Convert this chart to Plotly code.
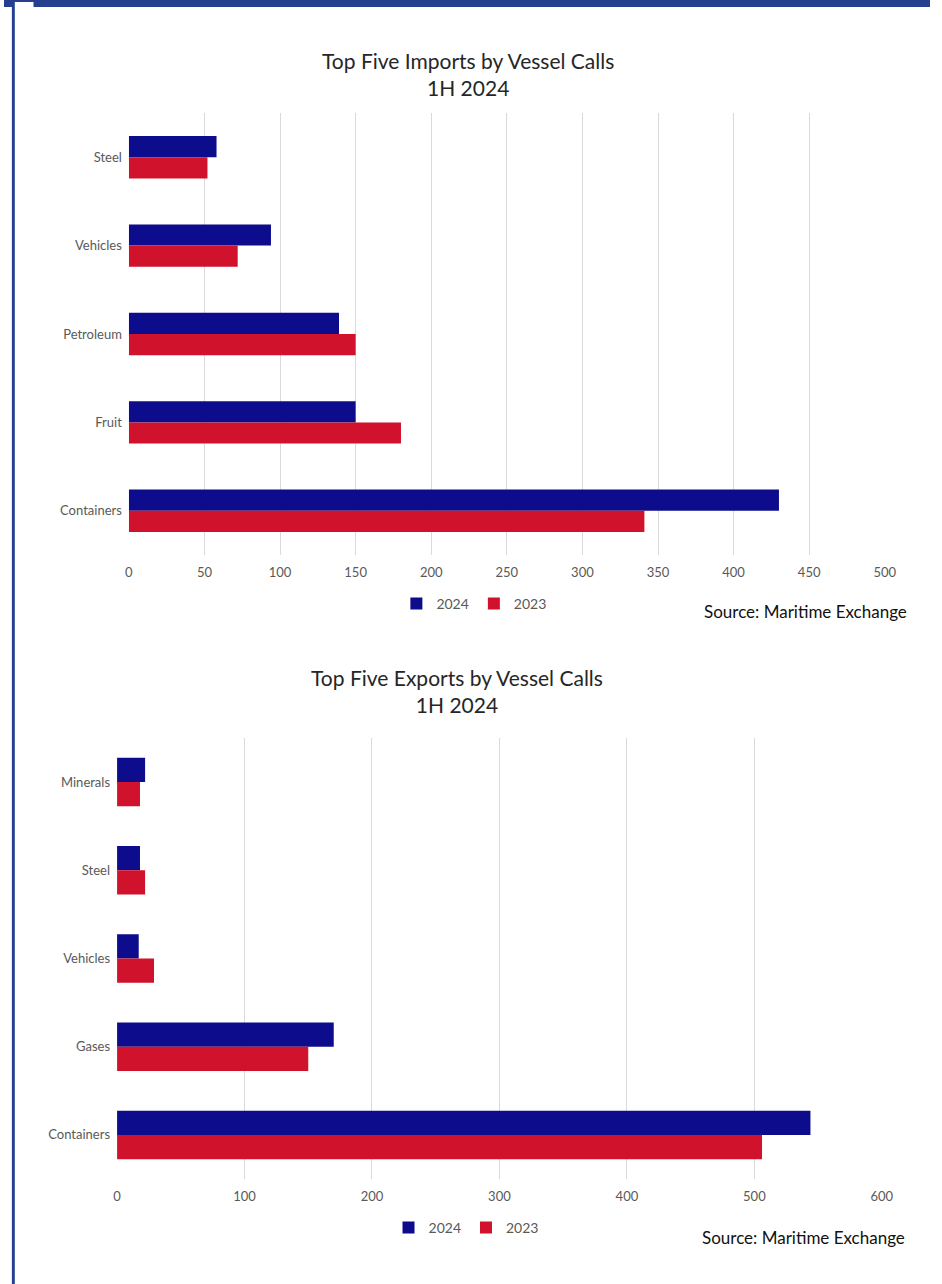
import plotly.graph_objects as go

# ---- data ----
import_categories = ["Steel", "Vehicles", "Petroleum", "Fruit", "Containers"]
import_2024 = [58, 94, 139, 150, 430]
import_2023 = [52, 72, 150, 180, 341]

export_categories = ["Minerals", "Steel", "Vehicles", "Gases", "Containers"]
export_2024 = [22, 18, 17, 170, 544]
export_2023 = [18, 22, 29, 150, 506]

import_ticks = [0, 50, 100, 150, 200, 250, 300, 350, 400, 450, 500]
export_ticks = [0, 100, 200, 300, 400, 500, 600]

W, H = 942, 1284
C24 = "#0C0C8C"
C23 = "#D0122C"
FONT = "Lato, Open Sans, sans-serif"
GRAY = "#595959"

def px(x):
    return x / W

def py(y):
    return 1 - y / H

fig = go.Figure()

w_top = 0.24
w_bot = 0.275
fig.add_trace(go.Bar(y=import_categories, x=import_2024, orientation="h", name="2024",
                     marker=dict(color=C24, line=dict(width=0)), width=w_top, offset=-w_top,
                     xaxis="x", yaxis="y", legend="legend"))
fig.add_trace(go.Bar(y=import_categories, x=import_2023, orientation="h", name="2023",
                     marker=dict(color=C23, line=dict(width=0)), width=w_top, offset=0,
                     xaxis="x", yaxis="y", legend="legend"))
fig.add_trace(go.Bar(y=export_categories, x=export_2024, orientation="h", name="2024",
                     marker=dict(color=C24, line=dict(width=0)), width=w_bot, offset=-w_bot,
                     xaxis="x2", yaxis="y2", legend="legend2"))
fig.add_trace(go.Bar(y=export_categories, x=export_2023, orientation="h", name="2023",
                     marker=dict(color=C23, line=dict(width=0)), width=w_bot, offset=0,
                     xaxis="x2", yaxis="y2", legend="legend2"))

axis_common = dict(showgrid=True, gridcolor="#D9D9D9", gridwidth=1, zeroline=False,
                   tickfont=dict(family=FONT, size=13, color=GRAY), ticks="",
                   showline=False)

fig.update_layout(
    width=W, height=H,
    margin=dict(l=0, r=0, t=0, b=0),
    paper_bgcolor="white", plot_bgcolor="white",
    font=dict(family=FONT, color=GRAY),
    xaxis=dict(domain=[px(127), px(896)], range=[0, 500], tickvals=import_ticks,
               anchor="y", ticklabelstandoff=8, **axis_common),
    yaxis=dict(domain=[py(555), py(113)], categoryorder="array", categoryarray=import_categories,
               autorange="reversed", anchor="x", showgrid=False, zeroline=False,
               tickfont=dict(family=FONT, size=13, color=GRAY), ticks="", ticklabelstandoff=6),
    xaxis2=dict(domain=[px(115), px(893)], range=[0, 600], tickvals=export_ticks,
                anchor="y2", ticklabelstandoff=8, **axis_common),
    yaxis2=dict(domain=[py(1179), py(738)], categoryorder="array", categoryarray=export_categories,
                autorange="reversed", anchor="x2", showgrid=False, zeroline=False,
                tickfont=dict(family=FONT, size=13, color=GRAY), ticks="", ticklabelstandoff=6),
    legend=dict(orientation="h", x=px(478), y=py(604), xanchor="center", yanchor="middle",
                font=dict(family=FONT, size=14, color=GRAY), bgcolor="rgba(0,0,0,0)",
                itemwidth=30, tracegroupgap=0),
    legend2=dict(orientation="h", x=px(470), y=py(1228), xanchor="center", yanchor="middle",
                 font=dict(family=FONT, size=14, color=GRAY), bgcolor="rgba(0,0,0,0)",
                 itemwidth=30, tracegroupgap=0),
    showlegend=True,
)

annotations = [
    dict(text="Top Five Imports by Vessel Calls<br>1H 2024", x=px(472), y=py(74),
         font=dict(family=FONT, size=21, color="#262626")),
    dict(text="Top Five Exports by Vessel Calls<br>1H 2024", x=px(461), y=py(691),
         font=dict(family=FONT, size=21, color="#262626")),
    dict(text="Source: Maritime Exchange", x=px(921), y=py(611), xanchor="right",
         font=dict(family=FONT, size=17, color="#111111")),
    dict(text="Source: Maritime Exchange", x=px(919), y=py(1237), xanchor="right",
         font=dict(family=FONT, size=17, color="#111111")),
]
for a in annotations:
    a.setdefault("xanchor", "center")
    fig.add_annotation(xref="paper", yref="paper", yanchor="middle", showarrow=False, **a)

BORDER = "#26408F"
fig.add_shape(type="rect", xref="paper", yref="paper", x0=0, x1=1, y0=py(7), y1=1,
              fillcolor=BORDER, line_width=0, layer="above")
fig.add_shape(type="rect", xref="paper", yref="paper", x0=px(8), x1=px(11), y0=0, y1=1,
              fillcolor=BORDER, line_width=0, layer="above")
fig.add_shape(type="rect", xref="paper", yref="paper", x0=px(11), x1=px(30), y0=py(7), y1=py(2),
              fillcolor="white", line_width=0, layer="above")

fig.write_html("out.html")
